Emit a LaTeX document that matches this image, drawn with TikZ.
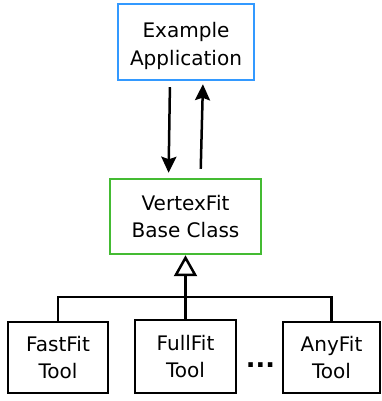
\documentclass[tikz,border=0pt]{standalone}
\usepackage{fontspec}
\setmainfont{DejaVu Sans}
\usepackage{xcolor}
\usepackage{tikz}
\usetikzlibrary{arrows.meta}
\definecolor{appblue}{HTML}{3399FF}
\definecolor{basegreen}{HTML}{44BB33}
\makeatletter
\renewcommand\small{%
  \@setfontsize\small{11.4pt}{15.7pt}%
}
\makeatother

\begin{document}
\begin{tikzpicture}[x=0.02cm, y=-0.02cm, line width=0.05cm,
    >={Stealth[length=0.32cm, width=0.3cm, inset=0.05cm]},
    every node/.style={font=\small},
    box/.style={draw, align=center, inner sep=0pt}]
  \useasboundingbox (0,0) rectangle (381,401);
  \node[box, draw=appblue, minimum width=2.72cm, minimum height=1.52cm, text height=1.02cm] (app) at (186,42) {Example\\Application};
  \node[box, draw=basegreen, minimum width=3.02cm, minimum height=1.5cm] (base) at (185.5,216.5) {VertexFit\\Base Class};
  \node[box, minimum width=2.0cm, minimum height=1.42cm] (fast) at (58,357.5) {FastFit\\Tool};
  \node[box, minimum width=2.02cm, minimum height=1.46cm] (full) at (185.5,356.5) {FullFit\\Tool};
  \node[box, minimum width=1.94cm, minimum height=1.42cm] (any) at (331.5,357.5) {AnyFit\\Tool};
  \node[anchor=base, font=\fontsize{14.5pt}{14.5pt}\selectfont\bfseries] (dots) at (260.5,367.5) {...};
  \coordinate (junction) at (185.5,297);

  % calls between the application and the base class
  \draw[->, shorten <=0.12cm, shorten >=0.1cm] ([xshift=-0.32cm]app.south) -- ([xshift=-0.34cm]base.north);
  \draw[->, shorten <=0.18cm, shorten >=0.06cm] ([xshift=0.3cm]base.north) -- ([xshift=0.34cm]app.south);

  % inheritance
  \draw[-{Triangle[open, length=0.42cm, width=0.46cm]}] (full.north) -- (base.south);
  \draw (fast.north) |- (junction) -| (any.north);
\end{tikzpicture}
\end{document}
